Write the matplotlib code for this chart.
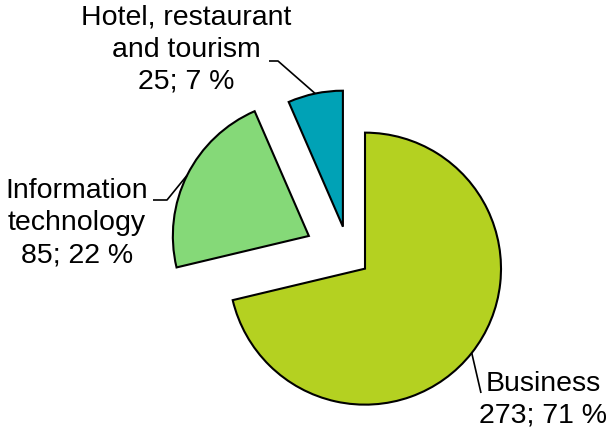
import numpy as np
import matplotlib
matplotlib.use("Agg")
import matplotlib.pyplot as plt

categories = ["Business", "Information technology", "Hotel, restaurant and tourism"]
display_names = ["Business", "Information\ntechnology", "Hotel, restaurant\nand tourism"]
counts = [273, 85, 25]
colors = ["#B4D121", "#85D978", "#00A2B6"]
explode = [0.15, 0.33, 0.22]

total = sum(counts)
percents = [round(100 * c / total) for c in counts]
labels = [f"{n}\n{c}; {p} %" for n, c, p in zip(display_names, counts, percents)]

plt.rcParams['font.family'] = ['Liberation Sans', 'DejaVu Sans']

W, H = 609, 433
fig = plt.figure(figsize=(W / 100, H / 100), dpi=100)
ax = fig.add_axes([0, 0, 1, 1])

# pixel -> data helper (radius 1 == 136 px, pie centre at (349, 256) px)
R = 136.0
CX, CY = 349.0, 256.0
def px(x, y):
    return ((x - CX) / R, (CY - y) / R)

wedges, _ = ax.pie(counts, explode=explode, colors=colors, startangle=90,
                   counterclock=False, radius=1.0,
                   wedgeprops=dict(edgecolor="black", linewidth=1.5))

ax.set_xlim(-CX / R, (W - CX) / R)
ax.set_ylim(-(H - CY) / R, CY / R)
ax.set_aspect("equal")
ax.axis("off")

# label centres and leader elbows (pixels)
label_pos = [(543, 400), (77, 223), (186, 50)]
elbows = [[(481, 393)], [(167, 200), (153, 200)], [(278, 61), (269, 61)]]

fs = 20.5
for w, lab, lp, elb in zip(wedges, labels, label_pos, elbows):
    mid = np.deg2rad((w.theta1 + w.theta2) / 2)
    cx, cy = w.center
    start = (cx + w.r * np.cos(mid), cy + w.r * np.sin(mid))
    pts = [start] + [px(*e) for e in elb]
    ax.plot([p[0] for p in pts], [p[1] for p in pts], color="black", lw=1.2,
            solid_capstyle="butt")
    tx, ty = px(*lp)
    ax.text(tx, ty, lab, ha="center", va="center", fontsize=fs,
            linespacing=1.3, color="black")

fig.savefig("out.png", dpi=100)
